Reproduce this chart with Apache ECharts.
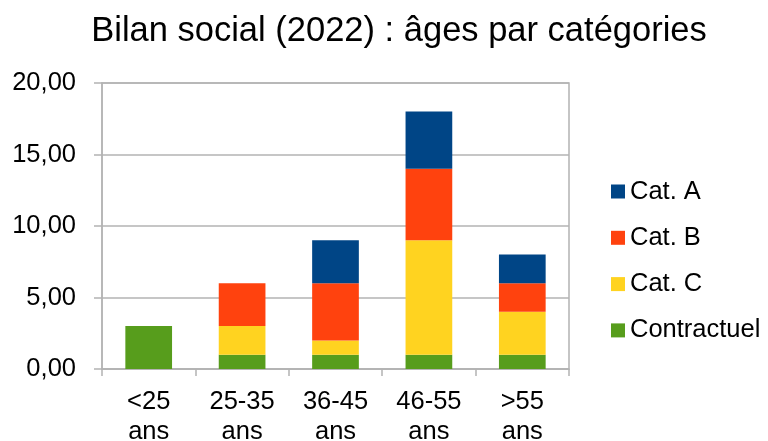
<!DOCTYPE html>
<html><head><meta charset="utf-8">
<script src="https://cdn.jsdelivr.net/npm/echarts@6/dist/echarts.min.js"></script>
<style>html,body{margin:0;padding:0;background:#fff}#c{width:768px;height:441px}</style>
</head><body><div id="c"></div>
<script>
var categories = ['<25\nans', '25-35\nans', '36-45\nans', '46-55\nans', '>55\nans'];
var contractuel = [3, 1, 1, 1, 1];
var catC = [0, 2, 1, 8, 3];
var catB = [0, 3, 4, 5, 2];
var catA = [0, 0, 3, 4, 2];
var yTicks = { min: 0, max: 20, interval: 5 };

var font = 'Liberation Sans, Arial, sans-serif';
var chart = echarts.init(document.getElementById('c'), null, { renderer: 'canvas' });
function s(name, data, color) {
  return { name: name, type: 'bar', stack: 'total', data: data, barWidth: '50%',
    itemStyle: { color: color }, emphasis: { disabled: true } };
}
chart.setOption({
  animation: false,
  backgroundColor: '#fff',
  title: { text: 'Bilan social (2022) : âges par catégories', left: 394, textAlign: 'center', top: 9,
    textStyle: { fontFamily: font, fontSize: 34.5, fontWeight: 'normal', color: '#000' } },
  legend: { orient: 'vertical', left: 611, top: 178.5, padding: 0, itemWidth: 14, itemHeight: 14, itemGap: 20.3,
    icon: 'rect', selectedMode: false,
    data: ['Cat. A', 'Cat. B', 'Cat. C', 'Contractuel'],
    textStyle: { fontFamily: font, fontSize: 25.5, lineHeight: 25, color: '#000', padding: [0, 0, 0, 0] } },
  grid: { left: 102, right: 199, top: 83, bottom: 72, show: true, borderColor: '#b3b3b3', borderWidth: 1.5,
    containLabel: false, outerBoundsMode: 'none' },
  xAxis: { type: 'category', data: categories,
    axisLine: { lineStyle: { color: '#b3b3b3', width: 1.5 } },
    axisTick: { show: true, length: 7, lineStyle: { color: '#b3b3b3', width: 1.5 }, alignWithLabel: false },
    axisLabel: { margin: 18, fontFamily: font, fontSize: 25.5, lineHeight: 30, color: '#000', interval: 0 } },
  yAxis: { type: 'value', min: yTicks.min, max: yTicks.max, interval: yTicks.interval,
    axisLine: { show: true, lineStyle: { color: '#b3b3b3', width: 1.5 } },
    axisTick: { show: true, length: 8, lineStyle: { color: '#b3b3b3', width: 1.5 } },
    splitLine: { lineStyle: { color: '#b3b3b3', width: 1.5 } },
    axisLabel: { margin: 26, fontFamily: font, fontSize: 25.5, color: '#000',
      formatter: function (v) { return v.toFixed(2).replace('.', ','); } } },
  series: [
    s('Contractuel', contractuel, '#579d1c'),
    s('Cat. C', catC, '#ffd320'),
    s('Cat. B', catB, '#ff420e'),
    s('Cat. A', catA, '#004586')
  ]
});
</script></body></html>
